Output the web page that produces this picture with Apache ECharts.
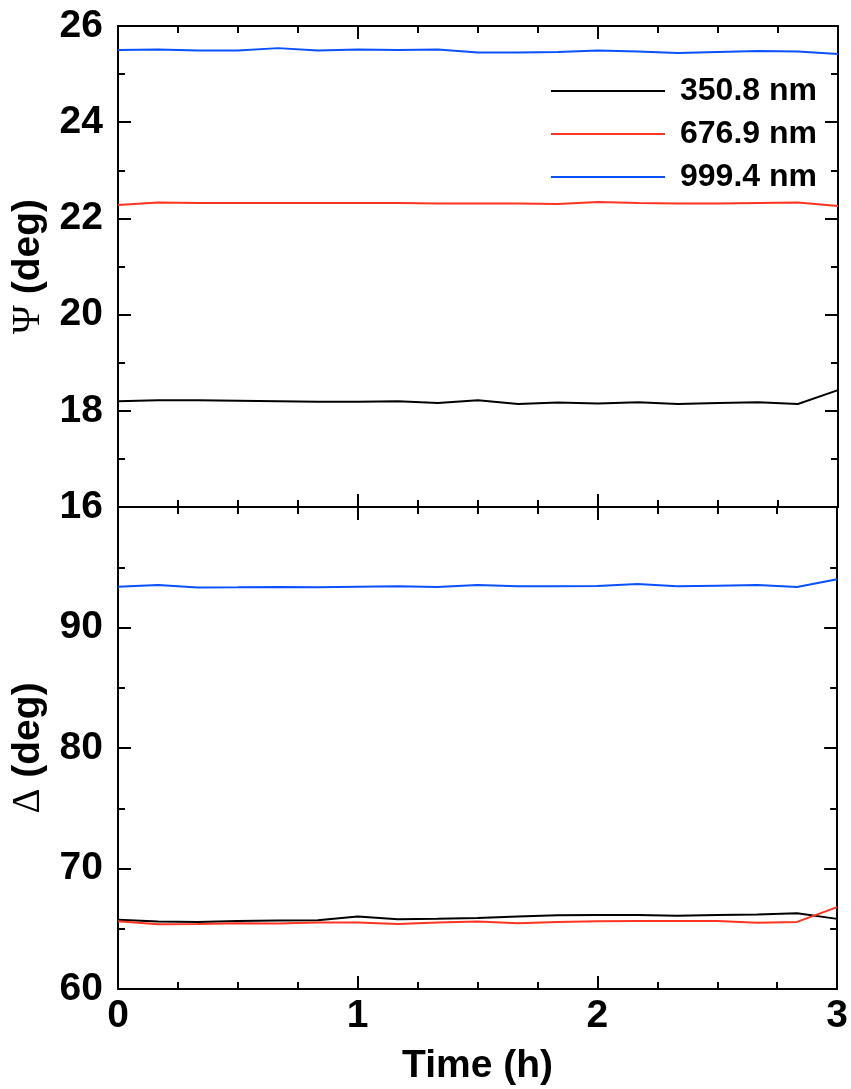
<!DOCTYPE html>
<html>
<head>
<meta charset="utf-8">
<script src="https://cdn.jsdelivr.net/npm/echarts@6/dist/echarts.min.js"></script>
<style>
html,body{margin:0;padding:0;background:#fff;}
#c{width:851px;height:1089px;}
</style>
</head>
<body>
<div id="c"></div>
<script>
const times = [0, 0.167, 0.333, 0.5, 0.667, 0.833, 1, 1.167, 1.333, 1.5, 1.667, 1.833, 2, 2.167, 2.333, 2.5, 2.667, 2.833, 3];
const seriesNames = ['350.8 nm', '676.9 nm', '999.4 nm'];
const colors = ['#000000', '#ff3322', '#0a50ff'];
const psi350 = [18.20, 18.22, 18.22, 18.21, 18.20, 18.19, 18.19, 18.20, 18.16, 18.22, 18.14, 18.17, 18.15, 18.18, 18.14, 18.16, 18.18, 18.14, 18.43];
const psi677 = [22.28, 22.33, 22.32, 22.32, 22.32, 22.32, 22.32, 22.32, 22.31, 22.31, 22.31, 22.30, 22.34, 22.32, 22.31, 22.31, 22.32, 22.33, 22.26];
const psi999 = [25.50, 25.51, 25.49, 25.49, 25.54, 25.49, 25.51, 25.50, 25.51, 25.45, 25.45, 25.46, 25.49, 25.47, 25.44, 25.46, 25.48, 25.47, 25.42];
const del350 = [65.74, 65.60, 65.57, 65.65, 65.68, 65.71, 66.01, 65.79, 65.82, 65.90, 66.01, 66.12, 66.15, 66.15, 66.07, 66.15, 66.18, 66.29, 65.82];
const del677 = [65.62, 65.37, 65.40, 65.46, 65.43, 65.51, 65.51, 65.40, 65.51, 65.60, 65.46, 65.57, 65.62, 65.65, 65.65, 65.65, 65.49, 65.57, 66.79];
const del999 = [93.39, 93.53, 93.31, 93.33, 93.36, 93.33, 93.39, 93.42, 93.36, 93.53, 93.42, 93.42, 93.45, 93.61, 93.42, 93.47, 93.53, 93.36, 94.00];
const xTicks = [0, 1, 2, 3];
const psiRange = [16, 26, 2];
const delRange = [60, 100, 10];

const FONT = 'Liberation Sans';
const lineStyle = {color: '#000', width: 2};
function pair(vals){ return vals.map((v,i)=>[times[i], v]); }

function xAx(grid, pos, labels){
  return {
    type: 'value', gridIndex: grid, position: pos, min: xTicks[0], max: xTicks[xTicks.length-1], interval: 1,
    axisLine: {show: true, onZero: false, lineStyle},
    axisTick: {show: true, inside: true, length: 13, lineStyle},
    minorTick: {show: true, splitNumber: 4, length: 7, lineStyle: {color:'#000', width: 2}},
    splitLine: {show: false}, minorSplitLine: {show: false},
    axisLabel: {show: labels, fontFamily: FONT, fontWeight: 'bold', fontSize: 39, color: '#000', margin: 8},
    name: labels ? 'Time (h)' : '', nameLocation: 'middle', nameGap: 58,
    nameTextStyle: {fontFamily: FONT, fontWeight: 'bold', fontSize: 39, color: '#000'}
  };
}
function yAx(grid, pos, range, labels, name, hideMax){
  return {
    type: 'value', gridIndex: grid, position: pos, min: range[0], max: range[1], interval: range[2],
    axisLine: {show: true, onZero: false, lineStyle},
    axisTick: {show: true, inside: true, length: 13, lineStyle},
    minorTick: {show: true, splitNumber: 2, length: 7, lineStyle: {color:'#000', width: 2}},
    splitLine: {show: false}, minorSplitLine: {show: false},
    axisLabel: {show: labels, showMaxLabel: !hideMax, fontFamily: FONT, fontWeight: 'bold', fontSize: 39, color: '#000', margin: 15},
    name: name || '', nameLocation: 'middle', nameGap: 70, nameRotate: 90,
    nameTextStyle: {fontFamily: FONT, fontWeight: 'bold', fontSize: 39, color: '#000',
      rich: {s: {fontFamily: 'Liberation Serif', fontWeight: 'normal', fontSize: 39, color: '#000'}}}
  };
}

function ser(name, idx, vals, axis){
  return {
    name, type: 'line', xAxisIndex: axis, yAxisIndex: axis, data: pair(vals),
    symbol: 'none', smooth: false, animation: false,
    lineStyle: {color: colors[idx], width: 2}, itemStyle: {color: colors[idx]}
  };
}

const chart = echarts.init(document.getElementById('c'), null, {renderer: 'canvas'});
chart.setOption({
  animation: false,
  backgroundColor: '#fff',
  grid: [
    {left: 118, top: 26, width: 720, height: 481},
    {left: 118, top: 507, width: 720, height: 482}
  ],
  xAxis: [xAx(0,'bottom',false), xAx(0,'top',false), xAx(1,'bottom',true), xAx(1,'top',false)],
  yAxis: [
    yAx(0,'left',psiRange,true,'{s|Ψ} (deg)',false),
    yAx(0,'right',psiRange,false,'',false),
    yAx(1,'left',delRange,true,'{s|Δ} (deg)',true),
    yAx(1,'right',delRange,false,'',false)
  ],
  legend: {
    data: seriesNames, orient: 'vertical', left: 551, top: 75, padding: 0,
    icon: 'rect', itemWidth: 114, itemHeight: 2, itemGap: 11,
    textStyle: {fontFamily: FONT, fontWeight: 'bold', fontSize: 32, color: '#000', lineHeight: 32, padding: [0,0,0,10]}
  },
  series: [
    ser(seriesNames[0], 0, psi350, 0),
    ser(seriesNames[1], 1, psi677, 0),
    ser(seriesNames[2], 2, psi999, 0),
    ser(seriesNames[0], 0, del350, 2),
    ser(seriesNames[1], 1, del677, 2),
    ser(seriesNames[2], 2, del999, 2)
  ]
});
</script>
</body>
</html>
